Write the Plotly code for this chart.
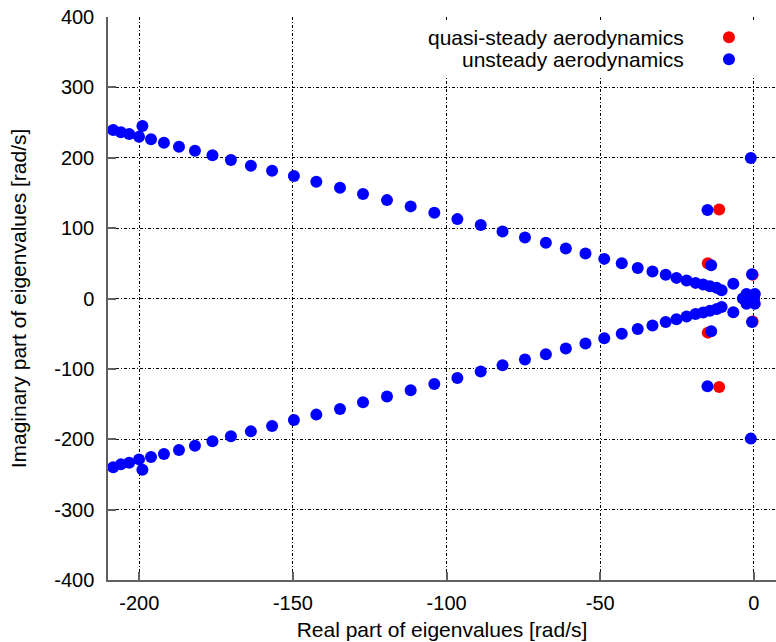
import plotly.graph_objects as go

# ---- data ----
upper_re = [-208.5, -206.0, -203.3, -200.1, -199.0, -196.2, -192.0, -187.1, -181.9, -176.2,
            -170.2, -163.7, -156.8, -149.7, -142.4, -134.7, -127.2, -119.4, -111.7, -104.0,
            -96.5, -88.9, -81.8, -74.5, -67.7, -61.2, -54.8, -48.7, -43.0, -37.8,
            -33.0, -28.7, -25.2, -21.9, -19.0, -16.5, -14.3, -12.1, -10.5]
upper_im = [239.4, 236.1, 233.7, 229.9, 245.1, 226.2, 221.3, 215.6, 210.0, 203.4,
            196.7, 188.6, 181.5, 174.0, 165.9, 157.3, 148.4, 139.8, 130.9, 121.8,
            112.8, 104.3, 95.3, 86.8, 79.1, 71.1, 64.0, 56.3, 50.2, 43.5,
            38.4, 33.6, 29.3, 25.6, 22.2, 19.9, 17.5, 15.1, 11.8]
lower_re = [-208.5, -206.0, -203.3, -200.1, -199.0, -196.2, -192.0, -187.1, -181.9, -176.2,
            -170.2, -163.7, -156.8, -149.7, -142.4, -134.7, -127.2, -119.4, -111.7, -104.0,
            -96.5, -88.9, -81.8, -74.5, -67.7, -61.2, -54.8, -48.7, -43.0, -37.8,
            -33.0, -28.7, -25.2, -21.9, -19.0, -16.5, -14.3, -12.1, -10.5]
lower_im = [-239.9, -235.7, -233.3, -228.6, -243.2, -225.3, -221.0, -215.3, -209.1, -203.0,
            -195.9, -188.8, -181.2, -172.7, -165.0, -157.0, -147.5, -139.4, -130.4, -121.5,
            -112.9, -103.8, -94.9, -86.8, -79.2, -71.0, -64.0, -56.5, -50.0, -43.5,
            -38.5, -33.5, -29.5, -25.5, -22.0, -20.0, -17.5, -15.0, -12.0]
extra_re = [-13.9, -13.9, -15.1, -15.1, -6.7, -6.7, -0.6, -0.6, -1.0, -1.0,
            -3.6, -2.4, -2.4, 0.3, 0.3, 0.0, -1.0, -1.0]
extra_im = [47.4, -46.5, 125.6, -124.8, 21.0, -19.5, 34.5, -33.5, 199.6, -199.1,
            0.0, 6.5, -7.5, 6.5, -7.5, 0.0, 3.0, -3.0]

quasi_re = [-11.3, -11.3, -15.0, -15.0, -0.4, -0.4, -2.0, 0.0]
quasi_im = [126.6, -125.7, 50.0, -48.5, 33.8, -32.8, 0.0, 0.0]

x_ticks = [-200, -150, -100, -50, 0]
y_ticks = [-400, -300, -200, -100, 0, 100, 200, 300, 400]

RED = "#ff0000"
BLUE = "#0000ff"
FONT = "Liberation Sans"
FS = 20
FS_T = 21
MS = 12

fig = go.Figure()
fig.add_trace(go.Scatter(x=quasi_re, y=quasi_im, mode="markers",
                         marker=dict(color=RED, size=MS, line=dict(width=0)),
                         name="quasi-steady aerodynamics", showlegend=False))
fig.add_trace(go.Scatter(x=upper_re + lower_re + extra_re,
                         y=upper_im + lower_im + extra_im, mode="markers",
                         marker=dict(color=BLUE, size=MS, line=dict(width=0)),
                         name="unsteady aerodynamics", showlegend=False))

axis_common = dict(
    showgrid=True, gridcolor="#000000", gridwidth=1, griddash="3px,2px,1px,2px",
    zeroline=False, showline=True, linecolor="#606060", linewidth=1.5,
    ticks="inside", ticklen=8, tickcolor="#606060", tickwidth=1.5,
    tickfont=dict(family=FONT, size=FS, color="#000000"),
    mirror=False,
)

fig.update_layout(
    width=776, height=642,
    margin=dict(l=108, r=0, t=17, b=62),
    paper_bgcolor="white", plot_bgcolor="white",
    font=dict(family=FONT, size=FS, color="#000000"),
    xaxis=dict(range=[-210.2, 7.2], tickvals=x_ticks, ticktext=[str(v) for v in x_ticks],
               title=dict(text="Real part of eigenvalues [rad/s]", standoff=10,
                          font=dict(family=FONT, size=FS_T)),
               ticklabelstandoff=4, **axis_common),
    yaxis=dict(range=[-400, 400], tickvals=y_ticks, ticktext=[str(v) for v in y_ticks],
               title=dict(text="Imaginary part of eigenvalues [rad/s]", standoff=22,
                          font=dict(family=FONT, size=FS_T)),
               ticklabelstandoff=8, **axis_common),
    showlegend=False,
)

# legend (text right-aligned, symbol on the right, as in the reference)
fig.add_shape(type="rect", xref="paper", yref="paper", x0=0.46, x1=1.0, y0=0.8952, y1=0.9911,
              fillcolor="white", line=dict(width=0), layer="above")
legend_items = [("quasi-steady aerodynamics", RED, 0.9639),
                ("unsteady aerodynamics", BLUE, 0.9248)]
for label, col, yp in legend_items:
    fig.add_annotation(xref="paper", yref="paper", x=0.8653, y=yp, text=label,
                       showarrow=False, xanchor="right", yanchor="middle",
                       font=dict(family=FONT, size=FS_T, color="#000000"))
    fig.add_shape(type="circle", xref="paper", yref="paper",
                  x0=0.9296 - 0.0090, x1=0.9296 + 0.0090, y0=yp - 0.0107, y1=yp + 0.0107,
                  fillcolor=col, line=dict(width=0), layer="above")

fig.write_html("out.html")
